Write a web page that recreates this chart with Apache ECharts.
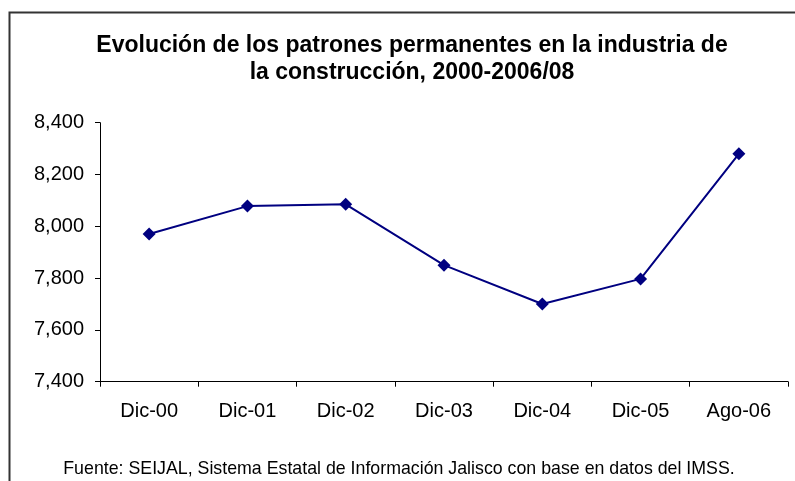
<!DOCTYPE html>
<html>
<head>
<meta charset="utf-8">
<script src="https://cdn.jsdelivr.net/npm/echarts@6/dist/echarts.min.js"></script>
<style>
html,body{margin:0;padding:0;background:#fff;}
#chart{width:795px;height:481px;}
</style>
</head>
<body>
<div id="chart"></div>
<script>
var categories = ['Dic-00', 'Dic-01', 'Dic-02', 'Dic-03', 'Dic-04', 'Dic-05', 'Ago-06'];
var patrones = [7970, 8078, 8085, 7850, 7700, 7797, 8280];
var yMin = 7400, yMax = 8400, yStep = 200;

var myChart = echarts.init(document.getElementById('chart'));
var option = {
	backgroundColor: '#fff',
	animation: false,
	title: {
		text: 'Evolución de los patrones permanentes en la industria de\nla construcción, 2000-2006/08',
		left: 407,
		top: 27,
		textAlign: 'center',
		textStyle: {
			fontFamily: 'Liberation Sans, Arial, sans-serif',
			fontSize: 23,
			fontWeight: 'bold',
			color: '#000',
			lineHeight: 27
		}
	},
	graphic: [
		{ // marco del area (solo se ven los bordes izquierdo y superior)
			type: 'rect',
			shape: { x: 9.5, y: 12.5, width: 900, height: 600 },
			style: { fill: null, stroke: '#333', lineWidth: 2 },
			silent: true
		},
		{
			type: 'text',
			x: 399,
			y: 459,
			scaleX: 0.935,
			style: {
				text: 'Fuente: SEIJAL, Sistema Estatal de Información Jalisco con base en datos del IMSS.',
				font: '19px "Liberation Sans", Arial, sans-serif',
				fill: '#000',
				align: 'center',
				verticalAlign: 'top'
			}
		}
	],
	grid: { left: 100, right: 7, top: 122.7, bottom: 99.3 },
	xAxis: {
		type: 'category',
		data: categories,
		boundaryGap: true,
		axisLine: { lineStyle: { color: '#000', width: 1 } },
		axisTick: { show: true, length: 5, lineStyle: { color: '#000' } },
		axisLabel: {
			color: '#000',
			fontFamily: 'Liberation Sans, Arial, sans-serif',
			fontSize: 20,
			margin: 20
		},
		splitLine: { show: false }
	},
	yAxis: {
		type: 'value',
		min: yMin,
		max: yMax,
		interval: yStep,
		axisLine: { show: true, lineStyle: { color: '#000', width: 1 } },
		axisTick: { show: true, length: 5, lineStyle: { color: '#000' } },
		axisLabel: {
			color: '#000',
			fontFamily: 'Liberation Sans, Arial, sans-serif',
			fontSize: 20,
			margin: 16,
			formatter: function(v) { return v.toLocaleString('en-US'); }
		},
		splitLine: { show: false }
	},
	series: [{
		name: 'Patrones',
		type: 'line',
		data: patrones,
		symbol: 'diamond',
		symbolSize: 13,
		lineStyle: { color: '#000080', width: 2 },
		itemStyle: { color: '#000080' }
	}]
};
myChart.setOption(option);
</script>
</body>
</html>
